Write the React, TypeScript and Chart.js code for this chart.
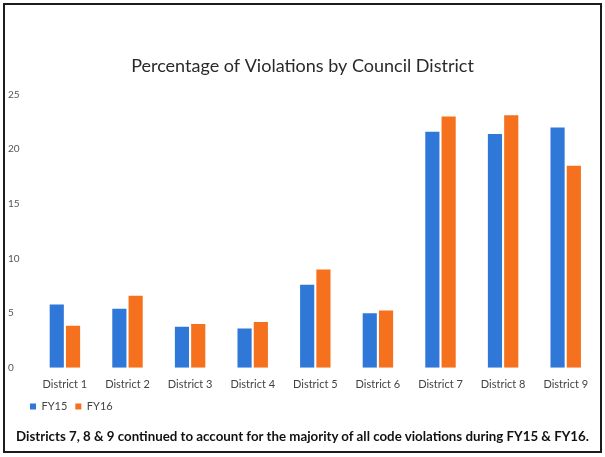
import React, { useEffect, useRef } from "react";
import { Chart, registerables } from "chart.js";

Chart.register(...registerables);

const categories = [
  "District 1",
  "District 2",
  "District 3",
  "District 4",
  "District 5",
  "District 6",
  "District 7",
  "District 8",
  "District 9",
];
const fy15 = [5.8, 5.4, 3.75, 3.6, 7.6, 5.0, 21.6, 21.4, 22.0];
const fy16 = [3.85, 6.6, 4.0, 4.2, 9.0, 5.25, 23.0, 23.1, 18.5];
const seriesNames = ["FY15", "FY16"];
const titleText = "Percentage of Violations by Council District";
const captionText =
  "Districts 7, 8 & 9 continued to account for the majority of all code violations during FY15 & FY16.";

const BLUE = "#2f78d8";
const ORANGE = "#f5711d";
const FONT = "Lato, 'Open Sans', sans-serif";

export default function App() {
  const ref = useRef<HTMLCanvasElement | null>(null);

  useEffect(() => {
    if (!ref.current) return;
    const shiftLegend = {
      id: "shiftLegend",
      afterLayout(chart: any) {
        if (chart.legend) {
          chart.legend.left += 14;
        }
      },
    };
    const chart = new Chart(ref.current, {
      type: "bar",
      data: {
        labels: categories,
        datasets: [
          {
            label: seriesNames[0],
            data: fy15,
            backgroundColor: BLUE,
            categoryPercentage: 0.52,
            barPercentage: 0.87,
          },
          {
            label: seriesNames[1],
            data: fy16,
            backgroundColor: ORANGE,
            categoryPercentage: 0.52,
            barPercentage: 0.87,
          },
        ],
      },
      options: {
        animation: false,
        responsive: false,
        maintainAspectRatio: false,
        layout: { padding: { left: 8, right: 8, top: 0, bottom: 35 } },
        plugins: {
          title: {
            display: true,
            text: titleText,
            color: "#2a2a2a",
            font: { family: FONT, size: 18, weight: "normal" },
            padding: { top: 55, bottom: 18 },
          },
          legend: {
            position: "bottom",
            align: "start",
            labels: {
              boxWidth: 6,
              boxHeight: 6,
              padding: 8,
              color: "#444",
              font: { family: FONT, size: 11 },
            },
          },
          tooltip: { enabled: false },
        },
        scales: {
          x: {
            grid: { display: false },
            border: { display: false },
            ticks: {
              color: "#444",
              font: { family: FONT, size: 11 },
              padding: 2,
            },
          },
          y: {
            min: 0,
            max: 25,
            grid: { display: false },
            border: { display: false },
            ticks: {
              stepSize: 5,
              color: "#555",
              crossAlign: "far",
              padding: 3,
              font: { family: FONT, size: 10 },
            },
          },
        },
      },
      plugins: [shiftLegend],
    });
    return () => chart.destroy();
  }, []);

  return (
    <div
      style={{
        position: "absolute",
        left: 0,
        top: 0,
        width: 605,
        height: 457,
        background: "#fff",
      }}
    >
      <canvas ref={ref} width={605} height={457} style={{ position: "absolute", left: 0, top: 0 }} />
      <div
        style={{
          position: "absolute",
          left: 0,
          top: 428,
          width: 605,
          textAlign: "center",
          fontFamily: FONT,
          fontWeight: "bold",
          fontSize: 13.3,
          color: "#111",
          whiteSpace: "nowrap",
        }}
      >
        {captionText}
      </div>
      <div
        style={{
          position: "absolute",
          left: 3,
          top: 3,
          width: 595,
          height: 446,
          border: "2px solid #1c1c1c",
          pointerEvents: "none",
        }}
      />
    </div>
  );
}
